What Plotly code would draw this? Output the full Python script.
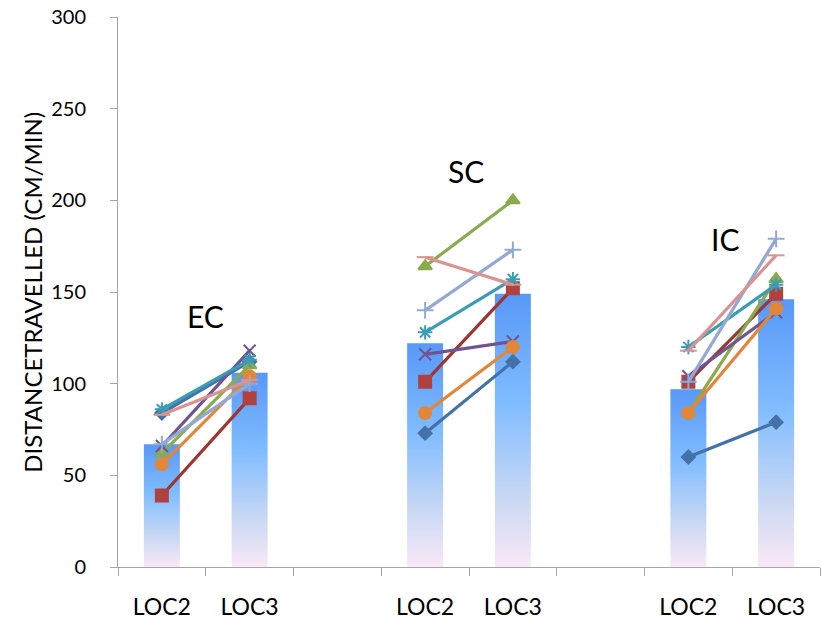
import plotly.graph_objects as go

# ---- data ----
categories = ["LOC2", "LOC3", "", "LOC2", "LOC3", "", "LOC2", "LOC3"]
bar_slots = [0, 1, 3, 4, 6, 7]
bar_means = [67, 106, 122, 149, 97, 146]

groups = ["EC", "SC", "IC"]
group_label_x = [1.0, 3.97, 6.92]
group_label_y = [137, 216, 179]

s_blue = [84, 112, 73, 112, 60, 79]
s_red = [39, 92, 101, 152, 101, 149]
s_green = [62, 110, 164, 200, 84, 157]
s_purple = [66, 118, 116, 123, 104, 139]
s_teal = [86, 113, 128, 157, 120, 154]
s_orange = [56, 104, 84, 120, 84, 141]
s_lightblue = [67, 100, 140, 173, 101, 179]
s_pink = [83, 102, 169, 154, 118, 170]

series = [
    (s_blue, "#4472A8", "diamond", 10, "#4472A8"),
    (s_red, "#9B3633", "square", 12, "#B0413E"),
    (s_green, "#8AAB4D", "triangle-up", 12, "#8AAB4D"),
    (s_purple, "#6E5491", "x-thin-open", 12, "#6E5491"),
    (s_teal, "#3C9CB5", "asterisk-open", 12, "#3C9CB5"),
    (s_orange, "#E2873A", "circle", 12, "#E2873A"),
    (s_lightblue, "#93A9D4", "cross-thin-open", 12, "#93A9D4"),
    (s_pink, "#D99391", "line-ew-open", 12, "#D99391"),
]

bar_width = 0.41

fig = go.Figure()

gradient = [[0.0, "#FAE8F6"], [0.25, "#C9D8F3"], [0.6, "#80BCFF"], [1.0, "#5898F7"]]
for slot, val in zip(bar_slots, bar_means):
    c = slot + 0.5
    fig.add_trace(go.Scatter(
        x=[c - bar_width / 2, c - bar_width / 2, c + bar_width / 2, c + bar_width / 2, c - bar_width / 2],
        y=[0, val, val, 0, 0],
        mode="lines", fill="toself", line=dict(width=0),
        fillgradient=dict(type="vertical", colorscale=gradient),
        hoverinfo="skip", showlegend=False,
    ))

for vals, lc, sym, size, mc in series:
    xs, ys = [], []
    for i, (slot, v) in enumerate(zip(bar_slots, vals)):
        xs.append(slot + 0.5)
        ys.append(v)
        if i % 2 == 1:
            xs.append(None)
            ys.append(None)
    fig.add_trace(go.Scatter(
        x=xs, y=ys, mode="lines+markers",
        line=dict(color=lc, width=3.2),
        marker=dict(symbol=sym, size=size, color=mc, line=dict(color=mc, width=2)),
        connectgaps=False, showlegend=False,
    ))

for g, gx, gy in zip(groups, group_label_x, group_label_y):
    fig.add_annotation(x=gx, y=gy, text=g, showarrow=False,
                       font=dict(size=30, color="#000000", family="Lato"))

fig.add_annotation(xref="paper", yref="paper", x=-0.123, y=0.5, text="DISTANCETRAVELLED (CM/MIN)",
                   textangle=-90, showarrow=False, xanchor="center", yanchor="middle",
                   font=dict(size=24, color="#000000", family="Lato"))

label_pos = [i + 0.5 for i, c in enumerate(categories) if c]
label_txt = [c for c in categories if c]

fig.update_layout(
    width=822, height=622,
    margin=dict(l=118, r=2, t=17, b=51),
    plot_bgcolor="white", paper_bgcolor="white",
    font=dict(family="Lato", color="#000000"),
    showlegend=False,
    xaxis=dict(range=[0, 8], tickmode="array", tickvals=label_pos, ticktext=label_txt,
               ticks="", showgrid=False, zeroline=False, showline=True, linecolor="#A6A6A6",
               linewidth=1, tickfont=dict(size=23), ticklabelstandoff=19),
    xaxis2=dict(range=[0, 8], overlaying="x", side="bottom", tickmode="array",
                tickvals=list(range(9)), showticklabels=False, ticks="outside", ticklen=8,
                tickcolor="#A6A6A6", showgrid=False, zeroline=False, showline=False),
    yaxis=dict(range=[0, 300], dtick=50, showgrid=False, zeroline=False, showline=True,
               linecolor="#A6A6A6", linewidth=1, ticks="outside", ticklen=7, tickcolor="#A6A6A6",
               tickfont=dict(size=20), ticklabelstandoff=20),
)
# dummy trace to activate xaxis2
fig.add_trace(go.Scatter(x=[None], y=[None], xaxis="x2", showlegend=False, hoverinfo="skip"))

fig.write_html("out.html")
